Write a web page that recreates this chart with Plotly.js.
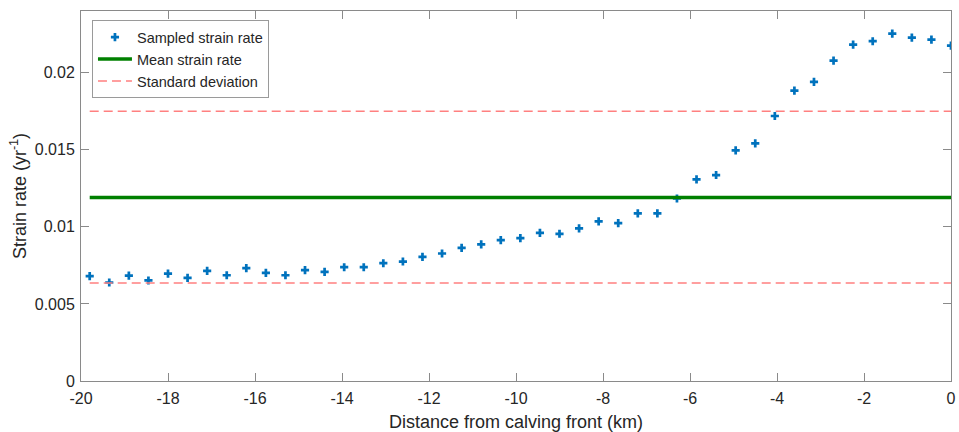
<!DOCTYPE html>
<html>
<head>
<meta charset="utf-8">
<script src="https://cdn.plot.ly/plotly-3.0.1.min.js"></script>
<style>
  html, body { margin: 0; padding: 0; background: #ffffff; }
  #chart { width: 959px; height: 432px; }
</style>
</head>
<body>
<div id="chart"></div>
<script>
// Distance from calving front (km)
const distanceKm = [
  -19.8, -19.35, -18.9, -18.45, -18.0, -17.55, -17.1, -16.65, -16.2, -15.75,
  -15.3, -14.85, -14.4, -13.95, -13.5, -13.05, -12.6, -12.15, -11.7, -11.25,
  -10.8, -10.35, -9.9, -9.45, -9.0, -8.55, -8.1, -7.65, -7.2, -6.75,
  -6.3, -5.85, -5.4, -4.95, -4.5, -4.05, -3.6, -3.15, -2.7, -2.25,
  -1.8, -1.35, -0.9, -0.45, 0.0
];
// Sampled strain rate (yr^-1)
const strainRate = [
  0.00680, 0.00639, 0.00684, 0.00652, 0.00697, 0.00669, 0.00714, 0.00686, 0.00732, 0.00701,
  0.00686, 0.00719, 0.00708, 0.00738, 0.00738, 0.00764, 0.00775, 0.00805, 0.00827, 0.00864,
  0.00886, 0.00914, 0.00927, 0.00961, 0.00955, 0.00990, 0.01035, 0.01024, 0.01087, 0.01087,
  0.01184, 0.01308, 0.01336, 0.01496, 0.01541, 0.01719, 0.01883, 0.01940, 0.02078, 0.02182,
  0.02204, 0.02253, 0.02227, 0.02214, 0.02175
];
const lineExtent = [-19.8, 0];
const meanRate = [0.01191, 0.01191];
const stdUpper = [0.01749, 0.01749];
const stdLower = [0.00636, 0.00636];

const xTickVals = [-20, -18, -16, -14, -12, -10, -8, -6, -4, -2, 0];
const xTickText = ["-20", "-18", "-16", "-14", "-12", "-10", "-8", "-6", "-4", "-2", "0"];
const yTickVals = [0, 0.005, 0.01, 0.015, 0.02];
const yTickText = ["0", "0.005", "0.01", "0.015", "0.02"];

const FONT = "Arial, 'Liberation Sans', Helvetica, sans-serif";
const TXT = "#262626";
const AX = "#8a8a8a";

const traces = [
  {
    x: distanceKm, y: strainRate, type: "scatter", mode: "markers",
    name: "Sampled strain rate",
    marker: { symbol: "cross", size: 6.8, color: "#0072BD", line: { width: 0 } }
  },
  {
    x: lineExtent, y: meanRate, type: "scatter", mode: "lines",
    name: "Mean strain rate",
    line: { color: "#008000", width: 3.5 }
  },
  {
    x: lineExtent, y: stdUpper, type: "scatter", mode: "lines",
    name: "Standard deviation",
    line: { color: "#FF8080", width: 1.5, dash: "9px,5px" }
  },
  {
    x: lineExtent, y: stdLower, type: "scatter", mode: "lines",
    name: "Standard deviation", showlegend: false,
    line: { color: "#FF8080", width: 1.5, dash: "9px,5px" }
  }
];

const layout = {
  width: 959, height: 432,
  margin: { l: 81, r: 8, t: 11, b: 51, pad: 0 },
  paper_bgcolor: "#ffffff", plot_bgcolor: "#ffffff",
  font: { family: FONT, color: TXT, size: 16 },
  showlegend: true,
  legend: {
    x: 0.0126, y: 0.975, xanchor: "left", yanchor: "top",
    bgcolor: "#ffffff", bordercolor: "#9a9a9a", borderwidth: 1,
    font: { family: FONT, size: 14.5, color: TXT },
    tracegroupgap: 0, itemwidth: 34
  },
  xaxis: {
    range: [-20, 0], tickmode: "array", tickvals: xTickVals, ticktext: xTickText,
    ticks: "inside", ticklen: 8, tickcolor: AX, tickwidth: 1,
    showline: true, linecolor: AX, linewidth: 1, mirror: "ticks",
    showgrid: false, zeroline: false, ticklabelstandoff: 3,
    tickfont: { family: FONT, size: 16, color: TXT },
    title: { text: "Distance from calving front (km)", font: { family: FONT, size: 18, color: TXT }, standoff: 11 },
    automargin: false
  },
  yaxis: {
    range: [0, 0.024], tickmode: "array", tickvals: yTickVals, ticktext: yTickText,
    ticks: "inside", ticklen: 8, tickcolor: AX, tickwidth: 1,
    showline: true, linecolor: AX, linewidth: 1, mirror: "ticks",
    showgrid: false, zeroline: false, ticklabelstandoff: 2,
    tickfont: { family: FONT, size: 16, color: TXT },
    title: { text: "Strain rate (yr<sup>-1</sup>)", font: { family: FONT, size: 18, color: TXT }, standoff: 3 },
    automargin: false
  }
};

Plotly.newPlot("chart", traces, layout, { displayModeBar: false, staticPlot: true });
</script>
</body>
</html>
